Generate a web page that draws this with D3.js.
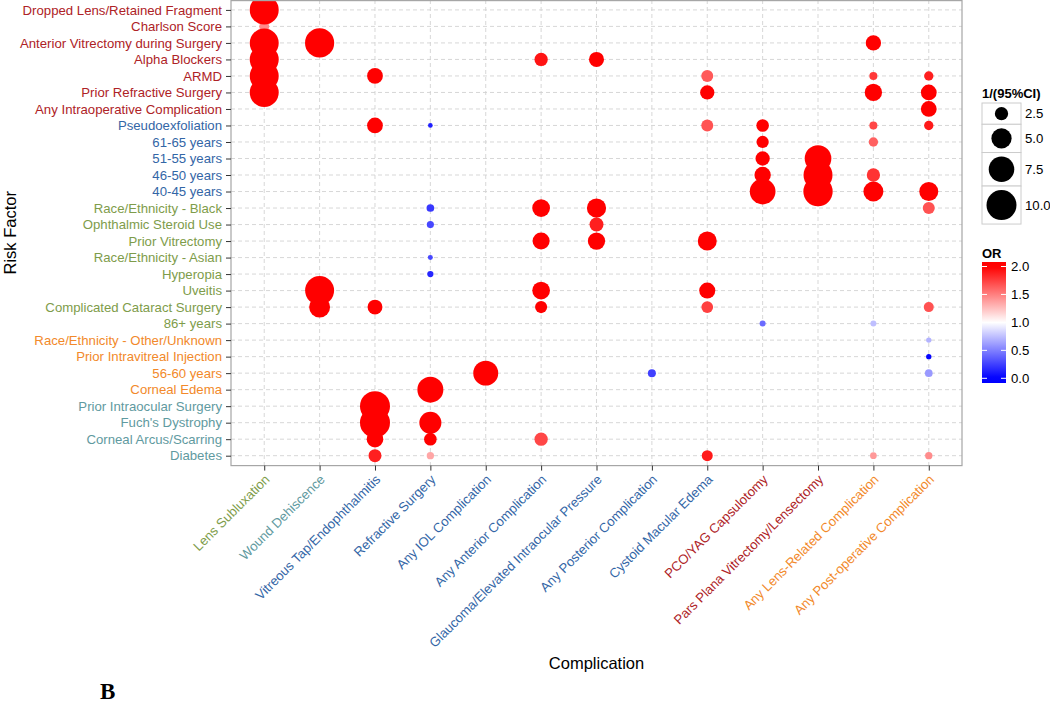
<!DOCTYPE html>
<html>
<head>
<meta charset="utf-8">
<script src="https://cdn.jsdelivr.net/npm/d3@7"></script>
<style>
  html, body { margin: 0; padding: 0; background: #fff; }
  svg { display: block; font-family: "Liberation Sans", Arial, Helvetica, sans-serif; }
</style>
</head>
<body>
<svg id="chart" width="1050" height="707"></svg>
<script>
// ---------------- data ----------------
const riskFactors = [
  "Dropped Lens/Retained Fragment", "Charlson Score", "Anterior Vitrectomy during Surgery",
  "Alpha Blockers", "ARMD", "Prior Refractive Surgery", "Any Intraoperative Complication",
  "Pseudoexfoliation", "61-65 years", "51-55 years", "46-50 years", "40-45 years",
  "Race/Ethnicity - Black", "Ophthalmic Steroid Use", "Prior Vitrectomy", "Race/Ethnicity - Asian",
  "Hyperopia", "Uveitis", "Complicated Cataract Surgery", "86+ years",
  "Race/Ethnicity - Other/Unknown", "Prior Intravitreal Injection", "56-60 years", "Corneal Edema",
  "Prior Intraocular Surgery", "Fuch's Dystrophy", "Corneal Arcus/Scarring", "Diabetes"
];
const riskFactorGroups = [
  "r","r","r","r","r","r","r",
  "b","b","b","b","b",
  "g","g","g","g","g","g","g","g",
  "o","o","o","o",
  "t","t","t","t"
];
const complications = [
  "Lens Subluxation", "Wound Dehiscence", "Vitreous Tap/Endophthalmitis", "Refractive Surgery",
  "Any IOL Complication", "Any Anterior Complication", "Glaucoma/Elevated Intraocular Pressure",
  "Any Posterior Complication", "Cystoid Macular Edema", "PCO/YAG Capsulotomy",
  "Pars Plana Vitrectomy/Lensectomy", "Any Lens-Related Complication", "Any Post-operative Complication"
];
const complicationGroups = ["g","t","b","b","b","b","b","b","b","r","r","o","o"];
const groupColors = { r: "#AE2226", b: "#3366A6", g: "#7E9C4A", o: "#F2892A", t: "#5F9AA0" };

// [risk factor, complication, OR, 1/(95%CI)]
const points = [
  ["Charlson Score", "Lens Subluxation", 1.45, 1.6],
  ["Dropped Lens/Retained Fragment", "Lens Subluxation", 2.0, 9.4],
  ["Anterior Vitrectomy during Surgery", "Lens Subluxation", 2.0, 9.4],
  ["Alpha Blockers", "Lens Subluxation", 2.0, 9.4],
  ["ARMD", "Lens Subluxation", 2.0, 9.4],
  ["Prior Refractive Surgery", "Lens Subluxation", 2.0, 9.4],

  ["Anterior Vitrectomy during Surgery", "Wound Dehiscence", 2.0, 9.5],
  ["Uveitis", "Wound Dehiscence", 2.0, 9.4],
  ["Complicated Cataract Surgery", "Wound Dehiscence", 2.0, 5.3],

  ["ARMD", "Vitreous Tap/Endophthalmitis", 2.0, 3.3],
  ["Pseudoexfoliation", "Vitreous Tap/Endophthalmitis", 2.0, 3.3],
  ["Complicated Cataract Surgery", "Vitreous Tap/Endophthalmitis", 2.0, 3.0],
  ["Prior Intraocular Surgery", "Vitreous Tap/Endophthalmitis", 2.0, 10.0],
  ["Fuch's Dystrophy", "Vitreous Tap/Endophthalmitis", 2.0, 10.0],
  ["Corneal Arcus/Scarring", "Vitreous Tap/Endophthalmitis", 2.0, 3.6],
  ["Diabetes", "Vitreous Tap/Endophthalmitis", 1.88, 2.4],

  ["Pseudoexfoliation", "Refractive Surgery", 0.12, 0.59],
  ["Race/Ethnicity - Black", "Refractive Surgery", 0.22, 1.1],
  ["Ophthalmic Steroid Use", "Refractive Surgery", 0.28, 1.0],
  ["Race/Ethnicity - Asian", "Refractive Surgery", 0.28, 0.63],
  ["Hyperopia", "Refractive Surgery", 0.15, 0.84],
  ["Corneal Edema", "Refractive Surgery", 2.0, 7.75],
  ["Fuch's Dystrophy", "Refractive Surgery", 2.0, 5.8],
  ["Corneal Arcus/Scarring", "Refractive Surgery", 2.0, 2.3],
  ["Diabetes", "Refractive Surgery", 1.35, 1.03],

  ["56-60 years", "Any IOL Complication", 2.0, 7.2],

  ["Alpha Blockers", "Any Anterior Complication", 1.92, 2.5],
  ["Race/Ethnicity - Black", "Any Anterior Complication", 2.0, 4.0],
  ["Prior Vitrectomy", "Any Anterior Complication", 2.0, 3.75],
  ["Uveitis", "Any Anterior Complication", 2.0, 4.0],
  ["Complicated Cataract Surgery", "Any Anterior Complication", 2.0, 2.15],
  ["Corneal Arcus/Scarring", "Any Anterior Complication", 1.72, 2.5],

  ["Alpha Blockers", "Glaucoma/Elevated Intraocular Pressure", 2.0, 3.05],
  ["Race/Ethnicity - Black", "Glaucoma/Elevated Intraocular Pressure", 2.0, 4.6],
  ["Ophthalmic Steroid Use", "Glaucoma/Elevated Intraocular Pressure", 1.88, 2.7],
  ["Prior Vitrectomy", "Glaucoma/Elevated Intraocular Pressure", 2.0, 3.85],

  ["56-60 years", "Any Posterior Complication", 0.25, 1.17],

  ["ARMD", "Cystoid Macular Edema", 1.65, 2.13],
  ["Prior Refractive Surgery", "Cystoid Macular Edema", 2.0, 2.8],
  ["Pseudoexfoliation", "Cystoid Macular Edema", 1.68, 2.13],
  ["Prior Vitrectomy", "Cystoid Macular Edema", 2.0, 4.5],
  ["Uveitis", "Cystoid Macular Edema", 2.0, 3.4],
  ["Complicated Cataract Surgery", "Cystoid Macular Edema", 1.75, 2.05],
  ["Diabetes", "Cystoid Macular Edema", 1.9, 1.86],

  ["Pseudoexfoliation", "PCO/YAG Capsulotomy", 2.0, 2.3],
  ["61-65 years", "PCO/YAG Capsulotomy", 2.0, 2.2],
  ["51-55 years", "PCO/YAG Capsulotomy", 2.0, 2.8],
  ["46-50 years", "PCO/YAG Capsulotomy", 2.0, 3.5],
  ["40-45 years", "PCO/YAG Capsulotomy", 2.0, 7.6],
  ["86+ years", "PCO/YAG Capsulotomy", 0.42, 0.79],

  ["51-55 years", "Pars Plana Vitrectomy/Lensectomy", 2.0, 8.1],
  ["46-50 years", "Pars Plana Vitrectomy/Lensectomy", 2.0, 9.4],
  ["40-45 years", "Pars Plana Vitrectomy/Lensectomy", 2.0, 9.6],

  ["Anterior Vitrectomy during Surgery", "Any Lens-Related Complication", 2.0, 3.15],
  ["ARMD", "Any Lens-Related Complication", 1.78, 1.17],
  ["Prior Refractive Surgery", "Any Lens-Related Complication", 2.0, 3.85],
  ["Pseudoexfoliation", "Any Lens-Related Complication", 1.72, 1.17],
  ["61-65 years", "Any Lens-Related Complication", 1.62, 1.45],
  ["46-50 years", "Any Lens-Related Complication", 1.8, 2.5],
  ["40-45 years", "Any Lens-Related Complication", 2.0, 4.9],
  ["86+ years", "Any Lens-Related Complication", 0.75, 0.79],
  ["Diabetes", "Any Lens-Related Complication", 1.4, 0.91],

  ["ARMD", "Any Post-operative Complication", 1.88, 1.45],
  ["Prior Refractive Surgery", "Any Post-operative Complication", 2.0, 3.3],
  ["Any Intraoperative Complication", "Any Post-operative Complication", 2.0, 3.3],
  ["Pseudoexfoliation", "Any Post-operative Complication", 1.9, 1.45],
  ["40-45 years", "Any Post-operative Complication", 2.0, 4.5],
  ["Race/Ethnicity - Black", "Any Post-operative Complication", 1.68, 2.13],
  ["Complicated Cataract Surgery", "Any Post-operative Complication", 1.68, 1.61],
  ["Race/Ethnicity - Other/Unknown", "Any Post-operative Complication", 0.7, 0.68],
  ["Prior Intravitreal Injection", "Any Post-operative Complication", 0.02, 0.68],
  ["56-60 years", "Any Post-operative Complication", 0.6, 1.1],
  ["Diabetes", "Any Post-operative Complication", 1.45, 1.03]
];
const sizeLegendValues = [2.5, 5.0, 7.5, 10.0];
const colorLegendTicks = [0.0, 0.5, 1.0, 1.5, 2.0];

// ---------------- layout ----------------
const svg = d3.select("#chart");
const panel = { left: 231, right: 962, top: 0, bottom: 465.6 };
const fontSize = 13.2;

const x = d3.scalePoint().domain(complications).range([panel.left, panel.right]).padding(0.6);
const y = d3.scalePoint().domain(riskFactors).range([panel.top, panel.bottom]).padding(0.6);
const r = d3.scaleSqrt().domain([2.5, 10]).range([6.65, 15]);
const color = d3.scaleLinear().domain([0, 1, 2]).range(["#0000ff", "#ffffff", "#ff0000"])
  .interpolate(d3.interpolateRgb).clamp(true);

// panel background
svg.append("rect").attr("x", panel.left).attr("y", panel.top)
  .attr("width", panel.right - panel.left).attr("height", panel.bottom - panel.top)
  .attr("fill", "#fff");

// grid
const grid = svg.append("g").attr("stroke", "#d2d2d2").attr("stroke-width", 0.9)
  .attr("stroke-dasharray", "4,3");
grid.selectAll("line.h").data(riskFactors).join("line")
  .attr("x1", panel.left).attr("x2", panel.right)
  .attr("y1", d => y(d)).attr("y2", d => y(d));
grid.selectAll("line.v").data(complications).join("line")
  .attr("y1", panel.top).attr("y2", panel.bottom)
  .attr("x1", d => x(d)).attr("x2", d => x(d));

// points
svg.append("g").selectAll("circle").data(points).join("circle")
  .attr("cx", d => x(d[1])).attr("cy", d => y(d[0]))
  .attr("r", d => r(d[3]))
  .attr("fill", d => color(d[2]));

// panel border
svg.append("rect").attr("x", panel.left).attr("y", panel.top + 0.6)
  .attr("width", panel.right - panel.left).attr("height", panel.bottom - panel.top - 0.6)
  .attr("fill", "none").attr("stroke", "#a6a6a6").attr("stroke-width", 1.2);

// y axis
const yAxis = d3.axisLeft(y).tickSize(5).tickPadding(4);
const gy = svg.append("g").attr("transform", `translate(${panel.left},0)`).call(yAxis);
gy.select(".domain").remove();
gy.selectAll(".tick line").attr("stroke", "#333").attr("stroke-width", 1);
gy.selectAll(".tick text")
  .attr("font-size", fontSize)
  .attr("font-family", "Liberation Sans, Arial, sans-serif")
  .attr("fill", d => groupColors[riskFactorGroups[riskFactors.indexOf(d)]]);

// x axis
const xAxis = d3.axisBottom(x).tickSize(5).tickPadding(4);
const gx = svg.append("g").attr("transform", `translate(0,${panel.bottom})`).call(xAxis);
gx.select(".domain").remove();
gx.selectAll(".tick line").attr("stroke", "#333").attr("stroke-width", 1);
gx.selectAll(".tick text")
  .attr("font-size", fontSize)
  .attr("font-family", "Liberation Sans, Arial, sans-serif")
  .attr("fill", d => groupColors[complicationGroups[complications.indexOf(d)]])
  .attr("text-anchor", "end")
  .attr("y", 0).attr("dy", "0.71em")
  .attr("transform", "translate(-1,8) rotate(-45)");

// axis titles
svg.append("text").attr("x", (panel.left + panel.right) / 2).attr("y", 669)
  .attr("text-anchor", "middle").attr("font-size", 16.5).attr("fill", "#000")
  .text("Complication");
svg.append("text").attr("transform", `translate(16,${(panel.top + panel.bottom) / 2}) rotate(-90)`)
  .attr("text-anchor", "middle").attr("font-size", 16.5).attr("fill", "#000")
  .text("Risk Factor");

// size legend
const lg = svg.append("g");
lg.append("text").attr("x", 982).attr("y", 97.5).attr("font-size", 13).attr("font-weight", "bold")
  .text("1/(95%CI)");
let ky = 103;
const keyW = 39;
sizeLegendValues.forEach(v => {
  const h = 2 * r(v) + 8;
  lg.append("rect").attr("x", 982).attr("y", ky).attr("width", keyW).attr("height", h)
    .attr("fill", "#fff").attr("stroke", "#cccccc").attr("stroke-width", 1);
  lg.append("circle").attr("cx", 982 + keyW / 2).attr("cy", ky + h / 2).attr("r", r(v)).attr("fill", "#000");
  lg.append("text").attr("x", 1025).attr("y", ky + h / 2).attr("dy", "0.36em")
    .attr("font-size", fontSize).text(d3.format(".1f")(v));
  ky += h;
});

// color legend
const cg = svg.append("g");
cg.append("text").attr("x", 982).attr("y", 257.5).attr("font-size", 13).attr("font-weight", "bold")
  .text("OR");
const barTop = 262, barBottom = 383, barX = 982, barW = 24;
const cy = d3.scaleLinear().domain([0, 2]).range([378.3, 266.5]);
const defs = svg.append("defs");
const grad = defs.append("linearGradient").attr("id", "orgrad")
  .attr("x1", 0).attr("x2", 0).attr("y1", 1).attr("y2", 0);
d3.range(0, 21).forEach(i => {
  const t = i / 20;
  const yy = barBottom - t * (barBottom - barTop);
  grad.append("stop").attr("offset", t).attr("stop-color", color(cy.invert(yy)));
});
cg.append("rect").attr("x", barX).attr("y", barTop).attr("width", barW)
  .attr("height", barBottom - barTop).attr("fill", "url(#orgrad)");
colorLegendTicks.forEach(v => {
  const yy = cy(v);
  cg.append("line").attr("x1", barX).attr("x2", barX + 5).attr("y1", yy).attr("y2", yy)
    .attr("stroke", "#fff").attr("stroke-width", 1);
  cg.append("line").attr("x1", barX + barW - 5).attr("x2", barX + barW).attr("y1", yy).attr("y2", yy)
    .attr("stroke", "#fff").attr("stroke-width", 1);
  cg.append("text").attr("x", 1011).attr("y", yy).attr("dy", "0.36em")
    .attr("font-size", fontSize).text(d3.format(".1f")(v));
});

// panel label
svg.append("text").attr("x", 100).attr("y", 699).attr("font-family", "Liberation Serif, DejaVu Serif, serif")
  .attr("font-weight", "bold").attr("font-size", 23).text("B");
</script>
</body>
</html>
